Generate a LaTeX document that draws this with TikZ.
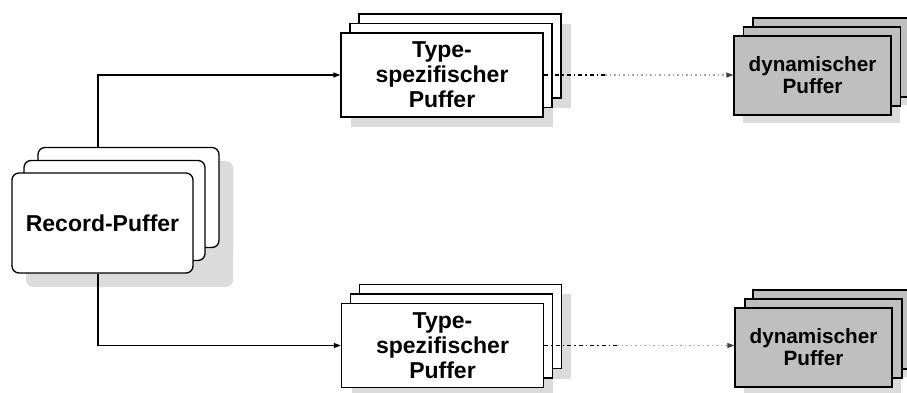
\documentclass[tikz,border=0pt]{standalone}
\usepackage{fontspec}
\setmainfont{Liberation Sans}
\usetikzlibrary{arrows.meta}
\begin{document}
\begin{tikzpicture}[x=1pt,y=-1pt,
  box/.style={draw=black,line width=1.3pt,fill=white,inner sep=0pt,align=center},
  recbox/.style={box,rounded corners=7pt,minimum width=181pt,minimum height=100pt},
  typbox/.style={box,minimum width=202pt,minimum height=84pt},
  dynbox/.style={box,fill=black!25,minimum width=157pt,minimum height=79pt},
  shade/.style={fill=black!14,draw=none},
  bigtxt/.style={font=\fontsize{23}{25}\selectfont\bfseries},
  smalltxt/.style={font=\fontsize{20.7}{22}\selectfont\bfseries},
  arr/.style={line width=1.3pt,-{Triangle[length=7pt,width=5pt]}},
  blackdash/.style={line width=1.3pt,dash pattern=on 4pt off 3pt on 1.5pt off 3pt},
  graydot/.style={line width=1.2pt,black!35,dash pattern=on 1.5pt off 3pt,-{Triangle[length=7pt,width=5pt,black!75]}}
]
\useasboundingbox (0,0) rectangle (907,392);
\clip (0,0) rectangle (907,392);
% ---------- shadows ----------
% Record
\fill[shade,rounded corners=7pt] (26,161) rectangle (233,287);
\fill[shade,rounded corners=7pt] (53,162) rectangle (233,261);
% Typ top
\fill[shade] (351,43) rectangle (553,127);
\fill[shade] (369,24) rectangle (571,108);
% Typ bottom
\fill[shade] (352,313) rectangle (553,398);
\fill[shade] (370,294) rectangle (571,379);
% dyn top
\fill[shade] (743,44) rectangle (900,123);
\fill[shade] (762,26) rectangle (930,105);
% dyn bottom
\fill[shade] (744,316) rectangle (901,395);
\fill[shade] (762,298) rectangle (930,377);
% ---------- Record-Puffer stack ----------
\node[recbox] (r3) at (128.5,197.5) {};
\node[recbox] (r2) at (114.5,210.5) {};
\node[recbox,bigtxt] (r1) at (102.5,223) {Record-Puffer};
% ---------- Typ top ----------
\node[typbox] (t1c) at (460,56) {};
\node[typbox] (t1b) at (451,65.5) {};
\node[typbox,bigtxt] (t1) at (442,75) {Type-\\spezifischer\\Puffer};
% ---------- Typ bottom ----------
\node[typbox] (t2c) at (460.5,326.5) {};
\node[typbox] (t2b) at (451.5,336) {};
\node[typbox,bigtxt] (t2) at (442.5,345.5) {Type-\\spezifischer\\Puffer};
% ---------- dyn top ----------
\node[dynbox] (d1c) at (831.5,57.5) {};
\node[dynbox] (d1b) at (822,66.5) {};
\node[dynbox,smalltxt] (d1) at (812.5,75.5) {dynamischer\\Puffer};
% ---------- dyn bottom ----------
\node[dynbox] (d2c) at (831.5,329.5) {};
\node[dynbox] (d2b) at (823.5,338.5) {};
\node[dynbox,smalltxt] (d2) at (813.5,347.5) {dynamischer\\Puffer};
% ---------- connectors ----------
\coordinate (jx) at (98,0);
\draw[arr] (r3.north -| jx) |- (t1.west);
\draw[arr] (r1.south -| jx) |- (t2.west);
\coordinate (m1) at (605,0);
\coordinate (m2) at (617,0);
\draw[blackdash] (t1.east) -- (t1.east -| m1);
\draw[graydot] (t1.east -| m1) -- (t1.east -| d1.west);
\draw[blackdash] (t2.east) -- (t2.east -| m2);
\draw[graydot] (t2.east -| m2) -- (t2.east -| d2.west);
\end{tikzpicture}
\end{document}
